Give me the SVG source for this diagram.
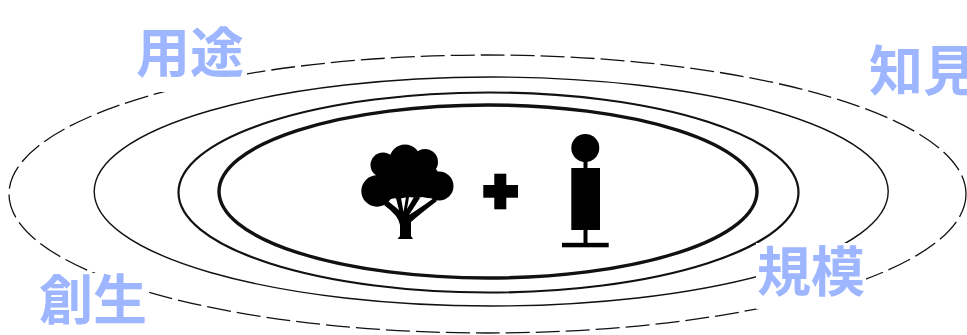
<svg xmlns="http://www.w3.org/2000/svg" width="967" height="335" viewBox="0 0 967 335">
<style>
.e{fill:none;stroke:#111}
.mask{fill:#fff}
.l{font-family:"Noto Sans CJK JP","Noto Sans CJK SC",sans-serif;font-size:54px;font-weight:700;fill:#9db6ff}
.b{fill:#000}
</style>
<rect width="967" height="335" fill="#fff"/>
<g id="connectors">
<ellipse class="e" cx="487.5" cy="194" rx="478.5" ry="139" stroke-width="1.3" stroke-dasharray="24 6"/>
<ellipse class="e" cx="491.2" cy="191.5" rx="397" ry="114.5" stroke-width="1.4"/>
<ellipse class="e" cx="488.5" cy="192.5" rx="310" ry="100" stroke-width="2.2"/>
<ellipse class="e" cx="488" cy="191.5" rx="269" ry="86.5" stroke-width="3.4"/>
</g>
<g id="label-yoto"><rect class="mask" x="137" y="26" width="110" height="66"/><text class="l" x="136" y="73">用途</text></g>
<g id="label-chiken"><text class="l" x="869" y="91">知見</text></g>
<g id="label-kibo"><rect class="mask" x="756" y="243" width="110" height="66"/><text class="l" x="757" y="292">規模</text></g>
<g id="label-sosei"><rect class="mask" x="37" y="273" width="110" height="62"/><text class="l" x="39" y="320">創生</text></g>
<g id="tree">
<circle class="b" cx="377" cy="191" r="15.7"/>
<circle class="b" cx="439" cy="186" r="14.500"/>
<circle class="b" cx="405" cy="160" r="15.500"/>
<circle class="b" cx="383" cy="165" r="12.500"/>
<circle class="b" cx="425" cy="162" r="13"/>
<path class="b" d="M372 182L385 160L430 160L442 178L438 198Q430 199 422 197L418 198L408 197Q403 198 398 199Q392 197 388 201L378 205Z"/>
<path class="b" d="M397.500 239L400 236V225Q399 216 384 205L388 201Q394 206 399 210L396 198H401L403.500 212L406 197H409L407 209L414 197L420 198L409 215Q420 208 434 198L437 201Q420 214 411 222V236L413 239Z"/>
</g>
<g id="plus">
<rect class="b" x="494.300" y="173.700" width="12" height="35.600"/>
<rect class="b" x="483.300" y="185" width="34.700" height="12.700"/>
</g>
<g id="person">
<circle class="b" cx="585.300" cy="148" r="14"/>
<rect class="b" x="583.500" y="160" width="4" height="84"/>
<rect class="b" x="571.300" y="168" width="28.700" height="62"/>
<rect class="b" x="562" y="242.800" width="46.700" height="4.500"/>
</g>
</svg>
